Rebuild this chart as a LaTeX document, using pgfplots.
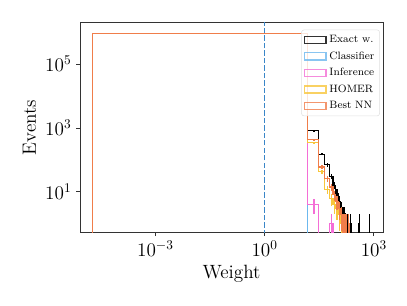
\documentclass[border=0pt]{standalone}
\usepackage{pgfplots}
\pgfplotsset{compat=1.18}
\usepackage{pgfplotstable}
\definecolor{cExact}{HTML}{000000}
\definecolor{cClass}{HTML}{6CB8EE}
\definecolor{cInf}{HTML}{F46ED6}
\definecolor{cHomer}{HTML}{F8C63C}
\definecolor{cNN}{HTML}{F07D4A}
\definecolor{cDash}{HTML}{3A86C8}

\pgfplotstableread{
lo n
1.9e-5 0.01
1.9e-5 940000
15 830
30 150
45 70
60 30
75 16
90 9
105 5
120 3
135 2
150 2
165 1
180 1
195 1
210 0.01
225 1
240 0.01
390 1
405 0.01
750 1
765 0.01
}\exact

\pgfplotstableread{
lo n
1.9e-5 0.01
1.9e-5 940000
15 0.01
}\classifier

\pgfplotstableread{
lo n
1.9e-5 0.01
1.9e-5 940000
15 4
30 0.01
60 1
75 0.01
}\inference

\pgfplotstableread{
lo n
1.9e-5 0.01
1.9e-5 940000
15 350
30 43
45 12
60 6
75 4
90 3
105 2
120 1
135 0.01
}\homer

\pgfplotstableread{
lo n
1.9e-5 0.01
1.9e-5 940000
15 430
30 60
45 26
60 14
75 8
90 5
105 3
120 2
135 1
150 1
165 1
180 0.01
195 1
210 0.01
}\bestnn

\pgfplotsset{
  errplot/.style={forget plot, draw=none, mark=none,
    error bars/.cd, y dir=both, y explicit, error mark=none,
    error bar style={draw=#1, line width=1pt, solid}},
}

\begin{document}
\begin{tikzpicture}
\begin{axis}[
  scale only axis,
  width=227pt, height=157pt,
  xmode=log, ymode=log,
  xmin=8.5e-6, xmax=1780,
  ymin=0.54, ymax=2e6,
  xtick={1e-3,1,1e3}, ytick={10,1e3,1e5},
  xminorticks=false, yminorticks=false,
  tick align=outside, tick pos=left,
  major tick length=3pt,
  axis line style={black!80, line width=0.6pt},
  every tick/.style={black!80, line width=0.6pt},
  ticklabel style={font=\Large},
  label style={font=\Large},
  xlabel={Weight}, ylabel={Events},
  legend style={font=\fontsize{8}{9.5}\selectfont, at={(rel axis cs:0.99,0.967)}, anchor=north east,
    draw=black!12, rounded corners=2pt, fill=white, fill opacity=0.8, text opacity=1,
    row sep=1.3pt, inner xsep=2pt, inner ysep=2pt},
  legend cell align=left,
  legend image code/.code={\draw[#1,sharp corners,fill=none,line width=1pt,opacity=0.8] (0pt,-2.7pt) rectangle (16pt,2.7pt);},
  clip=true,
]
\addplot[const plot, cExact, line width=0.9pt] table[x=lo,y=n] {\exact};
\addlegendentry{Exact w.}
\addplot[const plot, cClass, line width=0.9pt] table[x=lo,y=n] {\classifier};
\addlegendentry{Classifier}
\addplot[const plot, cInf, line width=0.9pt] table[x=lo,y=n] {\inference};
\addlegendentry{Inference}
\addplot[const plot, cHomer, line width=0.9pt] table[x=lo,y=n] {\homer};
\addlegendentry{HOMER}
\addplot[const plot, cNN, line width=0.9pt] table[x=lo,y=n] {\bestnn};
\addlegendentry{Best NN}

\addplot[errplot=cExact]
  table[x expr=\thisrow{lo}+7.5, y=n, y error plus expr={sqrt(\thisrow{n})}, y error minus expr={min(sqrt(\thisrow{n}),0.999*\thisrow{n})}] {\exact};
\addplot[errplot=cInf]
  table[x expr=\thisrow{lo}+7.5, y=n, y error plus expr={sqrt(\thisrow{n})}, y error minus expr={min(sqrt(\thisrow{n}),0.999*\thisrow{n})}] {\inference};
\addplot[errplot=cHomer]
  table[x expr=\thisrow{lo}+7.5, y=n, y error plus expr={sqrt(\thisrow{n})}, y error minus expr={min(sqrt(\thisrow{n}),0.999*\thisrow{n})}] {\homer};
\addplot[errplot=cNN]
  table[x expr=\thisrow{lo}+7.5, y=n, y error plus expr={sqrt(\thisrow{n})}, y error minus expr={min(sqrt(\thisrow{n}),0.999*\thisrow{n})}] {\bestnn};

\addplot[forget plot, cDash, line width=1.1pt, dash pattern=on 4pt off 1.6pt] coordinates {(1,0.01) (1,1e7)};
\end{axis}
\path (current axis.south west) ++(-60pt,-55pt) coordinate (bbA);
\path (current axis.north east) ++(18pt,17pt) coordinate (bbB);
\path (bbA) rectangle (bbB);
\end{tikzpicture}
\end{document}
